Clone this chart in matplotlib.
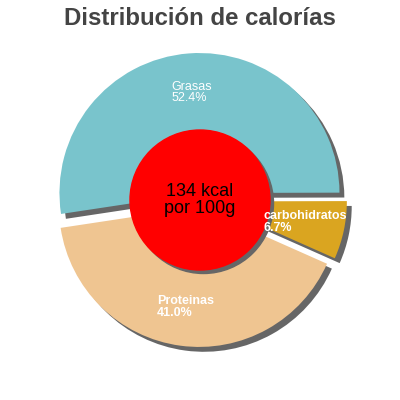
import matplotlib.pyplot as plt
from matplotlib.patches import Circle

# datos
nombres = ["Grasas", "carbohidratos", "Proteinas"]
porcentajes = [52.4, 6.7, 41.0]
colores = ["#79c4cc", "#daa520", "#efc591"]
kcal = 134

plt.rcParams['font.family'] = ['Liberation Sans', 'DejaVu Sans']

fig = plt.figure(figsize=(4, 4), dpi=100)
ax = fig.add_axes([0, 0, 1, 1])

etiquetas = [f"{n}\n{p:.1f}%" for n, p in zip(nombres, porcentajes)]
sombra = {'ox': 0.025, 'oy': -0.025, 'facecolor': '#666666', 'edgecolor': '#666666', 'alpha': 1}

wedges, textos = ax.pie(porcentajes, labels=etiquetas, colors=colores,
                        explode=[0.05] * len(porcentajes), startangle=188.6,
                        counterclock=False, labeldistance=0.72, shadow=sombra,
                        wedgeprops={'linewidth': 0})

pesos = ['normal', 'bold', 'bold']
for t, w in zip(textos, pesos):
    t.set_color('white')
    t.set_fontsize(9)
    t.set_fontweight(w)
    t.set_ha('center')
    t.set_multialignment('left')
    t.set_linespacing(0.95)
    t.set_zorder(8)

# circulo central con sombra
ax.add_patch(Circle((0.025, -0.025), 0.5, color='#666666', zorder=5))
ax.add_patch(Circle((0, 0), 0.5, color='red', zorder=6))
ax.text(0, 0, f"{kcal} kcal\npor 100g", ha='center', va='center',
        fontsize=13, linespacing=1.0, color='black', zorder=7)

lim = 200 / 140
ax.set_xlim(-lim, lim)
ax.set_ylim(-lim, lim)
ax.set_aspect('equal')
ax.axis('off')

fig.text(0.5, 1 - 25 / 400, "Distribución de calorías", ha='center', va='baseline',
         fontsize=17.3, fontweight='bold', color='#444444')

fig.savefig('out.png', dpi=100)
